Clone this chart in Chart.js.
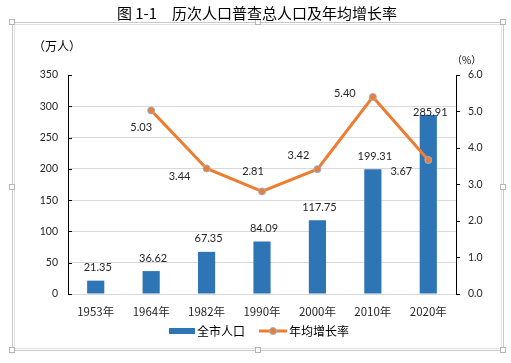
<!DOCTYPE html>
<html>
<head>
<meta charset="utf-8">
<script src="https://cdn.jsdelivr.net/npm/chart.js@4.4.1/dist/chart.umd.min.js"></script>
<style>
  html, body { margin: 0; padding: 0; background: #fff; }
  #wrap { width: 511px; height: 363px; }
</style>
</head>
<body>
<div id="wrap"><canvas id="myChart" width="511" height="363"></canvas></div>
<script>
var years = ['1953年', '1964年', '1982年', '1990年', '2000年', '2010年', '2020年'];
var population = [21.35, 36.62, 67.35, 84.09, 117.75, 199.31, 285.91];
var growthRate = [null, 5.03, 3.44, 2.81, 3.42, 5.40, 3.67];

// label placement, relative to the point (Excel moved some of them by hand)
var rateLabelShift = [null, [-10, 17], [-27, 8], [-9, -20], [-19, -14], [-28, -3], [-27, 11]];
var barLabelGap = [13, 13, 13, 13, 13, 13, 3];

var numFont = 'Lato, "Noto Sans", sans-serif';
var cjkFont = '"Noto Sans CJK SC", sans-serif';
var blue = '#2E75B6';
var orange = '#ED7D31';

var extras = {
  id: 'extras',
  afterDraw: function(chart) {
    var c = chart.ctx;
    var yS = chart.scales.y;
    c.save();

    // frame round the chart
    c.strokeStyle = '#c9c9c9';
    c.lineWidth = 1;
    c.strokeRect(12.5, 22.5, 491, 328);
    c.strokeStyle = '#e2e2e2';
    c.strokeRect(14.5, 24.5, 487, 324);
    c.fillStyle = '#fff';
    c.strokeStyle = '#b5b5b5';
    [[12, 22], [258, 22], [503, 22], [12, 187], [503, 187], [12, 350], [258, 350], [503, 350]].forEach(function(h) {
      c.fillRect(h[0] - 3, h[1] - 3, 6, 6);
      c.strokeRect(h[0] - 2.5, h[1] - 2.5, 5, 5);
    });

    // title
    c.fillStyle = '#000';
    c.font = '15px ' + cjkFont;
    c.textAlign = 'center';
    c.textBaseline = 'middle';
    c.fillText('图 1-1　历次人口普查总人口及年均增长率', 257, 13);

    // units
    c.font = '12px ' + cjkFont;
    c.textAlign = 'left';
    c.fillText('（万人）', 33, 46);
    c.font = '10px ' + cjkFont;
    c.fillText('（%）', 452, 60);

    // inward ticks on the left axis
    c.strokeStyle = '#000';
    c.lineWidth = 1;
    yS.ticks.forEach(function(t) {
      var py = Math.round(yS.getPixelForValue(t.value)) + 0.5;
      c.beginPath();
      c.moveTo(yS.right, py);
      c.lineTo(yS.right + 4, py);
      c.stroke();
    });

    // bar labels
    c.font = '11px ' + numFont;
    c.fillStyle = '#262626';
    c.textAlign = 'center';
    var barMeta = chart.getDatasetMeta(0);
    barMeta.data.forEach(function(bar, i) {
      c.fillText(population[i].toFixed(2), bar.x + 2, bar.y - barLabelGap[i]);
    });

    // rate labels
    var lineMeta = chart.getDatasetMeta(1);
    lineMeta.data.forEach(function(pt, i) {
      if (growthRate[i] === null) return;
      var s = rateLabelShift[i];
      c.fillText(growthRate[i].toFixed(2), pt.x + s[0], pt.y + s[1]);
    });

    // legend
    var ly = 331;
    c.fillStyle = blue;
    c.fillRect(169, ly - 3, 26, 6);
    c.fillStyle = '#000';
    c.font = '12px ' + cjkFont;
    c.textAlign = 'left';
    c.fillText('全市人口', 197, ly);
    c.strokeStyle = orange;
    c.lineWidth = 3;
    c.beginPath();
    c.moveTo(259, ly);
    c.lineTo(287, ly);
    c.stroke();
    c.beginPath();
    c.arc(273, ly, 3.5, 0, Math.PI * 2);
    c.fillStyle = orange;
    c.fill();
    c.lineWidth = 1;
    c.strokeStyle = '#8FB4DF';
    c.stroke();
    c.fillStyle = '#000';
    c.fillText('年均增长率', 289, ly);

    c.restore();
  }
};

var ctx = document.getElementById('myChart').getContext('2d');
var chart = new Chart(ctx, {
  type: 'bar',
  data: {
    labels: years,
    datasets: [{
      type: 'bar',
      label: '全市人口',
      data: population,
      backgroundColor: blue,
      barPercentage: 0.31,
      categoryPercentage: 1,
      yAxisID: 'y',
      order: 2
    }, {
      type: 'line',
      label: '年均增长率',
      data: growthRate,
      borderColor: orange,
      borderWidth: 3,
      pointRadius: 3.5,
      pointBackgroundColor: orange,
      pointBorderColor: '#8FB4DF',
      pointBorderWidth: 1,
      tension: 0,
      yAxisID: 'y1',
      order: 1
    }]
  },
  options: {
    responsive: false,
    animation: false,
    events: [],
    layout: { padding: { left: 0, right: 0, top: 75, bottom: 37 } },
    plugins: {
      legend: { display: false },
      title: { display: false },
      tooltip: { enabled: false }
    },
    scales: {
      x: {
        grid: { display: false },
        border: { color: '#d9d9d9' },
        ticks: { color: '#262626', font: { family: cjkFont, size: 11.5 }, padding: 3, maxRotation: 0 },
        afterFit: function(s) { s.height = 32; }
      },
      y: {
        position: 'left',
        min: 0, max: 350,
        ticks: { stepSize: 50, color: '#262626', font: { family: numFont, size: 10.5 }, padding: 10 },
        grid: {
          drawTicks: false,
          color: function(c) { return (c.tick && (c.tick.value === 350 || c.tick.value === 0)) ? 'rgba(0,0,0,0)' : '#d9d9d9'; }
        },
        border: { color: '#000' },
        afterFit: function(s) { s.width = 68; }
      },
      y1: {
        position: 'right',
        min: 0, max: 6,
        ticks: {
          stepSize: 1, color: '#262626', font: { family: numFont, size: 10.5 }, padding: 8,
          callback: function(v) { return v.toFixed(1); }
        },
        grid: { drawOnChartArea: false, tickLength: 4, tickColor: '#000' },
        border: { color: '#000' },
        afterFit: function(s) { s.width = 55; }
      }
    }
  },
  plugins: [extras]
});
</script>
</body>
</html>
